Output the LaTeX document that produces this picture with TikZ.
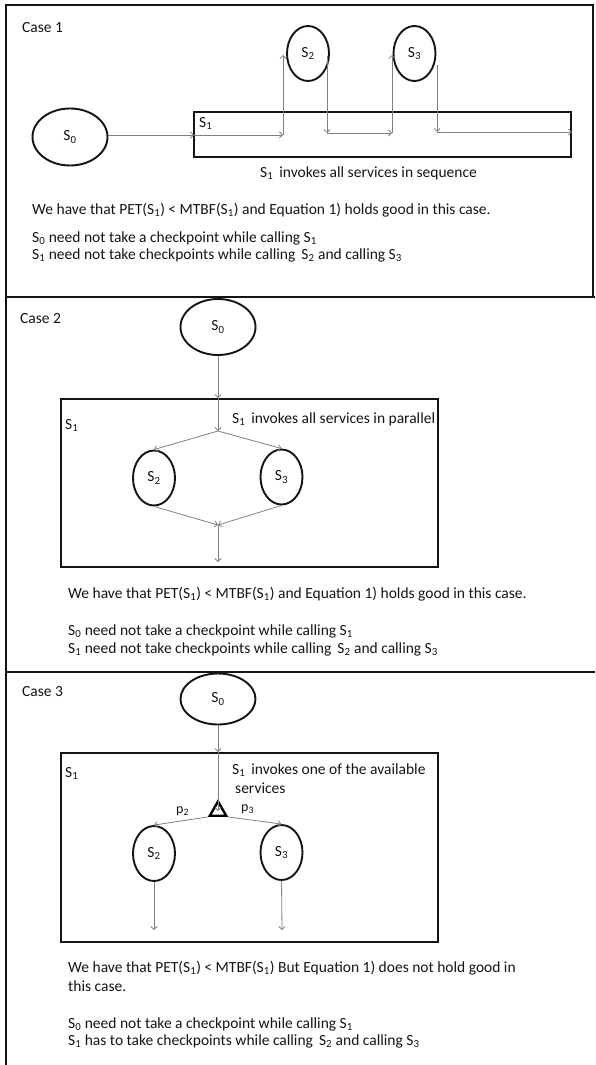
\documentclass[tikz,border=0pt]{standalone}
\usepackage{fontspec}
\setmainfont{Carlito}
\usetikzlibrary{arrows.meta,shapes.geometric}
\definecolor{linkgray}{HTML}{808080}
\definecolor{inkblack}{HTML}{141414}
\newcommand\sub[1]{\textsubscript{#1}}

\begin{document}
\begin{tikzpicture}[x=1pt,y=-1pt,
  frame/.style={draw=inkblack, line width=2pt},
  svc/.style={ellipse, draw=inkblack, line width=1.9pt, inner sep=0pt,
    font=\fontsize{15.5}{18}\selectfont, text=inkblack},
  bigsvc/.style={svc, minimum width=75pt, minimum height=57pt},
  smallsvc/.style={svc, minimum width=42pt, minimum height=55pt},
  panel/.style={draw=inkblack, line width=1.8pt, inner sep=0pt, minimum width=377pt},
  arr/.style={draw=linkgray, line width=0.8pt, -{Straight Barb[length=3pt,width=6pt]}},
  txt/.style={anchor=base west, inner sep=0pt, font=\fontsize{15.5}{18}\selectfont, text=inkblack},
  prob/.style={anchor=base west, inner sep=0pt, font=\fontsize{14}{16}\selectfont, text=inkblack},
  chooser/.style={regular polygon, regular polygon sides=3, draw=black, line width=2.4pt,
    inner sep=0pt, minimum size=19pt}
]
\useasboundingbox (0,0) rectangle (595,1065);

% outer frame and panel separators
\draw[frame] (5.5,1065) -- (5.5,5) -- (593,5) -- (593,297);
\draw[frame] (5.5,297) -- (595,297);
\draw[frame] (5.5,672) -- (595,672);

% ---------------- Case 1: sequential invocation ----------------
\node[txt] (case1) at (22,33) {Case 1};
\node[bigsvc] (s0a) at (70,137) {S\sub{0}};
\node[panel, minimum height=45pt] (box1) at (382.5,134.5) {};
\node[txt] (lab1) at (199,127) {S\sub{1}};
\node[smallsvc] (s2a) at (308,53.5) {S\sub{2}};
\node[smallsvc] (s3a) at (414.5,53.5) {S\sub{3}};

\coordinate (c1in)  at (194,135);
\coordinate (c1up)  at (283,135);
\coordinate (c1top) at (283,55);
\coordinate (c1d0)  at (327,56);
\coordinate (c1d1)  at (327,133);
\coordinate (c1e)   at (392,133);
\coordinate (c1f)   at (392,55);
\coordinate (c1g)   at (437,65);
\coordinate (c1h)   at (437,132);

\draw[arr] (s0a.east |- c1in) -- (c1in);
\draw[arr] (c1in) -- (c1up);
\draw[arr] (c1up) -- (c1top);
\draw[arr] (c1d0) -- (c1d1);
\draw[arr] (c1d1) -- (c1e);
\draw[arr] (c1e) -- (c1f);
\draw[arr] (c1g) -- (c1h);
\draw[arr] (c1h) -- (box1.east |- c1h);

\node[txt] (seq) at (260,177) {S\sub{1}\, invokes all services in sequence};
\node[txt] (t1a) at (32,214) {We have that PET(S\sub{1}) < MTBF(S\sub{1}) and Equation 1) holds good in this case.};
\node[txt] (t1b) at (32,242) {S\sub{0} need not take a checkpoint while calling S\sub{1}};
\node[txt] (t1c) at (32,259.5) {S\sub{1} need not take checkpoints while calling\, S\sub{2} and calling S\sub{3}};

% ---------------- Case 2: parallel invocation ----------------
\node[txt] (case2) at (20,323) {Case 2};
\node[bigsvc, minimum height=56pt] (s0b) at (218,327) {S\sub{0}};
\node[panel, minimum height=168pt] (box2) at (249.5,483) {};
\node[txt] (lab2) at (65,429) {S\sub{1}};
\node[txt] (par) at (232,423) {S\sub{1}\, invokes all services in parallel};
\node[smallsvc] (s2b) at (154,478) {S\sub{2}};
\node[smallsvc] (s3b) at (281.5,477) {S\sub{3}};

\coordinate (c2in)    at (s0b |- box2.north);
\coordinate (c2split) at (218,431);
\coordinate (c2merge) at (218,525);
\coordinate (c2out)   at (218,562);

\draw[arr] (s0b.south) -- (c2in);
\draw[arr] (c2in) -- (c2split);
\draw[arr] (c2split) -- (s2b.north);
\draw[arr] (c2split) -- (s3b.north);
\draw[arr] (s2b.south) -- (c2merge);
\draw[arr] (s3b.south) -- (c2merge);
\draw[arr] (c2merge) -- (c2out);

\node[txt] (t2a) at (68,598) {We have that PET(S\sub{1}) < MTBF(S\sub{1}) and Equation 1) holds good in this case.};
\node[txt] (t2b) at (68,635) {S\sub{0} need not take a checkpoint while calling S\sub{1}};
\node[txt] (t2c) at (68,653) {S\sub{1} need not take checkpoints while calling\, S\sub{2} and calling S\sub{3}};

% ---------------- Case 3: choice of one service ----------------
\node[txt] (case3) at (22,696) {Case 3};
\node[bigsvc, minimum height=51pt] (s0c) at (218,699) {S\sub{0}};
\node[panel, minimum height=189pt] (box3) at (249.5,847.5) {};
\node[txt] (lab3) at (65,777) {S\sub{1}};
\node[txt] (one) at (232,774) {S\sub{1}\, invokes one of the available};
\node[txt] (one2) at (235,793) {services};
\node[chooser] (tri) at (218,811) {};
\node[prob] (p2) at (176,813) {p\sub{2}};
\node[prob] (p3) at (241,811) {p\sub{3}};
\node[smallsvc] (s2c) at (154,853.5) {S\sub{2}};
\node[smallsvc] (s3c) at (281.5,852.5) {S\sub{3}};

\coordinate (c3in)  at (s0c |- box3.north);
\coordinate (c3o2)  at (154,930);
\coordinate (c3o3)  at (282,930);

\draw[arr] (s0c.south) -- (c3in);
\draw[arr] (c3in) -- (tri.center);
\draw[arr] (tri.corner 2) -- (s2c.north);
\draw[arr] (tri.corner 3) -- (s3c.north);
\draw[arr] (s2c.south) -- (c3o2);
\draw[arr] (s3c.south) -- (c3o3);

\node[txt] (t3a) at (68,972) {We have that PET(S\sub{1}) < MTBF(S\sub{1}) But Equation 1) does not hold good in};
\node[txt] (t3b) at (68,991) {this case.};
\node[txt] (t3c) at (68,1028) {S\sub{0} need not take a checkpoint while calling S\sub{1}};
\node[txt] (t3d) at (68,1045) {S\sub{1} has to take checkpoints while calling\, S\sub{2} and calling S\sub{3}};
\end{tikzpicture}
\end{document}
